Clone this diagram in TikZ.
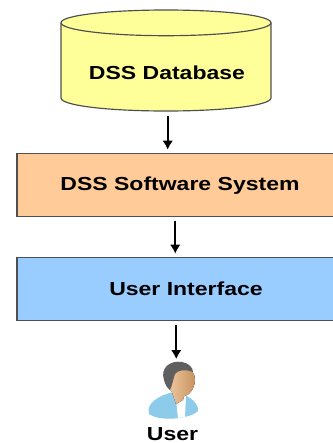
\documentclass[tikz,border=0pt]{standalone}
\usepackage{fontspec}
\setmainfont{Liberation Sans}
\usetikzlibrary{arrows.meta}
\definecolor{dbyellow}{HTML}{FFFF99}
\definecolor{swpeach}{HTML}{FFCC99}
\definecolor{uiblue}{HTML}{99CCFF}
\definecolor{edgegray}{HTML}{4F4F4F}
\definecolor{shirtblue}{HTML}{8CCBEA}
\definecolor{skinlight}{HTML}{EFC8A0}
\definecolor{skindark}{HTML}{C8935F}
\definecolor{hairgray}{HTML}{5F5F5F}
\begin{document}
\begin{tikzpicture}[x=.03cm,y=-.03cm,
  lbl/.style={font=\fontsize{16.1}{18}\selectfont\bfseries,text=black,transform shape,xscale=1.22,anchor=base,inner sep=0pt},
  box/.style={draw=edgegray,line width=.9pt,minimum width=9.495cm,minimum height=1.91cm,inner sep=0pt},
  arr/.style={-{Latex[length=2.7mm,width=3.2mm]},line width=1.5pt,black,shorten <=1.1mm,shorten >=.9mm}]
  \useasboundingbox (0,0) rectangle (333,443);
  % database
  \draw[fill=dbyellow,draw=edgegray,line width=1pt] (61,22.7) -- (61,98)
    .. controls (61,105.5) and (108,111) .. (166,111) .. controls (224,111) and (271,105.5) .. (271,98) -- (271,22.7)
    .. controls (271,15.5) and (224,10) .. (166,10) .. controls (108,10) and (61,15.5) .. (61,22.7) -- cycle;
  \draw[draw=edgegray,line width=1pt] (61,22.7) .. controls (61,30) and (108,35.7) .. (166,35.7)
    .. controls (224,35.7) and (271,30) .. (271,22.7);
  \node[minimum width=6.3cm,minimum height=.1cm,inner sep=0pt] (db) at (167.7,110) {};
  \node[lbl] (dbtext) at (167,79) {DSS Database};
  \node[box,fill=swpeach] (sw) at (175.25,185) {};
  \node[lbl] (swtext) at (180,190.7) {DSS Software System};
  \node[box,fill=uiblue] (ui) at (175.25,289) {};
  \node[lbl] (uitext) at (186,295) {User Interface};
  \node[lbl] (user) at (172.5,440) {User};
  \coordinate (icon) at (176,362);
  \draw[arr] (db.south) -- (db.south |- sw.north);
  \draw[arr] (sw.south) -- (ui.north);
  \draw[arr] ([xshift=.03cm]ui.south) -- ([xshift=.03cm]ui.south |- icon);
  % person
  \fill[shirtblue] (149,414) .. controls (146,403) and (158,396) .. (173,392)
    .. controls (186,393) and (199,402) .. (198,411) .. controls (190,419) and (160,422) .. (149,414);
  \fill[white] (176,400) -- (186,396) -- (185,417) -- (178,418) -- cycle;
  \fill[left color=skinlight,right color=skindark] (171,368) .. controls (180,363) and (195,368) .. (195,379)
    .. controls (195,390) and (188,396) .. (184,396) -- (183,400) -- (176,404) -- (172,392)
    .. controls (170,390) and (169,388) .. (168,385) -- cycle;
  \fill[hairgray] (164,380) .. controls (160,368) and (170,360) .. (182,362)
    .. controls (188,363) and (193,367) .. (193,372) .. controls (185,369) and (178,370) .. (175,374)
    .. controls (173,380) and (172,386) .. (170,390) .. controls (167,388) and (165,384) .. (164,380);
\end{tikzpicture}
\end{document}
